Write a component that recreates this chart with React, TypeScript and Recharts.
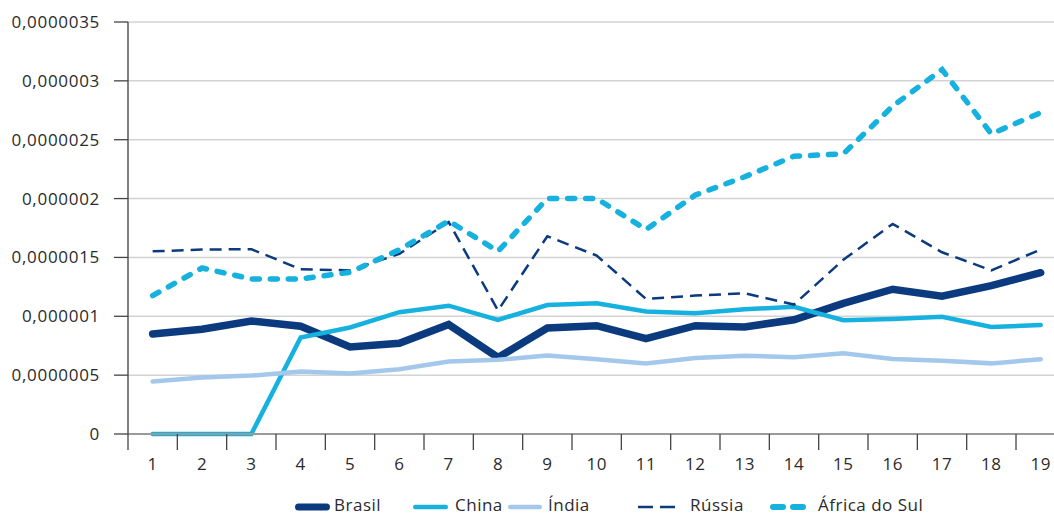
import React from 'react';
import { LineChart, Line, XAxis, YAxis, CartesianGrid, Legend } from 'recharts';

// x categories
const categories = ['1', '2', '3', '4', '5', '6', '7', '8', '9', '10', '11', '12', '13', '14', '15', '16', '17', '18', '19'];

// values in millionths (×0,000001)
const brasil = [0.85, 0.89, 0.96, 0.915, 0.74, 0.77, 0.93, 0.65, 0.9, 0.92, 0.81, 0.92, 0.91, 0.97, 1.11, 1.23, 1.17, 1.26, 1.37];
const china = [0, 0, 0, 0.82, 0.905, 1.035, 1.09, 0.97, 1.096, 1.11, 1.04, 1.025, 1.06, 1.08, 0.966, 0.977, 0.995, 0.91, 0.925];
const india = [0.445, 0.48, 0.496, 0.53, 0.515, 0.55, 0.615, 0.63, 0.666, 0.635, 0.6, 0.646, 0.665, 0.652, 0.685, 0.637, 0.622, 0.6, 0.635];
const russia = [1.552, 1.567, 1.57, 1.4, 1.39, 1.53, 1.8, 1.05, 1.68, 1.516, 1.147, 1.176, 1.195, 1.1, 1.48, 1.785, 1.544, 1.39, 1.567];
const africa = [1.176, 1.41, 1.317, 1.317, 1.374, 1.565, 1.81, 1.552, 2.0, 2.0, 1.737, 2.03, 2.185, 2.36, 2.38, 2.785, 3.096, 2.55, 2.73];

const seriesNames = ['Brasil', 'China', 'Índia', 'Rússia', 'África do Sul'];

const yTickValues = [0, 0.5, 1, 1.5, 2, 2.5, 3, 3.5];
const yTickLabels = ['0', '0,0000005', '0,000001', '0,0000015', '0,000002', '0,0000025', '0,000003', '0,0000035'];

const data = categories.map((c, i) => ({
  x: i + 1,
  label: c,
  brasil: brasil[i],
  china: china[i],
  india: india[i],
  russia: russia[i],
  africa: africa[i],
}));

// the plot runs past the right edge of the picture (last category band is cut)
const X_MAX = 19.27;
const xTicks: number[] = [];
for (let i = 0; i < categories.length; i++) {
  xTicks.push(i + 0.5);
  xTicks.push(i + 1);
}

const FONT = '"Open Sans", "Noto Sans", sans-serif';
const NAVY = '#0b3a7e';
const CYAN = '#16b1de';
const LIGHT = '#a3c8ec';
const TEXT = '#2b2b2b';

const XTick = (props: any) => {
  const { x, y, payload } = props;
  const v = payload.value;
  if (Number.isInteger(v)) {
    return (
      <text x={x} y={y + 36} textAnchor="middle" fill={TEXT} fontSize={17} fontFamily={FONT} letterSpacing={0.5}>
        {categories[v - 1]}
      </text>
    );
  }
  return <line x1={x} x2={x} y1={y} y2={y + 16} stroke="#444" strokeWidth={1.3} />;
};

const legendStyle = [
  { icon: 295, text: 334, color: NAVY, w: 7, dash: null, cap: 'round', len: 35 },
  { icon: 413, text: 455, color: CYAN, w: 4.5, dash: null, cap: 'round', len: 35 },
  { icon: 508, text: 548, color: LIGHT, w: 4.5, dash: null, cap: 'round', len: 34 },
  { icon: 638, text: 690, color: NAVY, w: 2.5, dash: '15 7', cap: 'butt', len: 41 },
  { icon: 770, text: 818, color: CYAN, w: 6, dash: '10 10', cap: 'round', len: 37 },
];

const LegendContent = () => (
  <div style={{ position: 'relative', height: 30, width: '100%' }}>
    {seriesNames.map((name, i) => {
      const s = legendStyle[i];
      const inset = s.cap === 'round' ? s.w / 2 : 0;
      return (
        <React.Fragment key={name}>
          <svg style={{ position: 'absolute', left: s.icon - 4, top: 14 }} width={s.len + 8} height={16}>
            <line
              x1={4 + inset}
              x2={4 + s.len - inset}
              y1={8}
              y2={8}
              stroke={s.color}
              strokeWidth={s.w}
              strokeLinecap={s.cap as any}
              strokeDasharray={s.dash || undefined}
            />
          </svg>
          <span
            style={{
              position: 'absolute',
              left: s.text,
              top: 11,
              lineHeight: '18px',
              fontSize: 17,
              fontFamily: FONT,
              color: TEXT,
              letterSpacing: 0.5,
              whiteSpace: 'nowrap',
            }}
          >
            {name}
          </span>
        </React.Fragment>
      );
    })}
  </div>
);

export default function App() {
  return (
    <div style={{ width: 1054, height: 515, background: '#fff', overflow: 'hidden' }}>
      <style>{'html, body { margin: 0; padding: 0; overflow: hidden; background: #fff; }'}</style>
      <LineChart width={1054} height={515} data={data} margin={{ top: 22, right: 0, left: 0, bottom: 0 }}>
        <CartesianGrid vertical={false} stroke="#d3d3d3" strokeWidth={1.5} />
        <XAxis
          dataKey="x"
          type="number"
          domain={[0.5, X_MAX]}
          ticks={xTicks}
          interval={0}
          tickLine={false}
          tickSize={0}
          tickMargin={0}
          height={51}
          axisLine={{ stroke: '#9a9a9a', strokeWidth: 2 }}
          tick={<XTick />}
        />
        <YAxis
          type="number"
          domain={[0, 3.5]}
          ticks={yTickValues}
          interval={0}
          width={128}
          tickSize={14}
          tickMargin={14}
          tickLine={{ stroke: '#444', strokeWidth: 1.3 }}
          axisLine={{ stroke: '#555', strokeWidth: 1.5 }}
          tick={{ fill: TEXT, fontSize: 17, fontFamily: FONT, letterSpacing: 0.7 }}
          tickFormatter={(v: number) => yTickLabels[yTickValues.indexOf(v)] ?? ''}
        />
        <Legend verticalAlign="bottom" height={30} content={<LegendContent />} />
        <Line dataKey="brasil" name={seriesNames[0]} stroke={NAVY} strokeWidth={7.5} strokeLinecap="round" dot={false} isAnimationActive={false} />
        <Line dataKey="china" name={seriesNames[1]} stroke={CYAN} strokeWidth={4.5} strokeLinecap="round" dot={false} isAnimationActive={false} />
        <Line dataKey="india" name={seriesNames[2]} stroke={LIGHT} strokeWidth={4.5} strokeLinecap="round" dot={false} isAnimationActive={false} />
        <Line dataKey="russia" name={seriesNames[3]} stroke={NAVY} strokeWidth={2.5} strokeDasharray="12 7" dot={false} isAnimationActive={false} />
        <Line dataKey="africa" name={seriesNames[4]} stroke={CYAN} strokeWidth={5.5} strokeDasharray="7 11" strokeLinecap="round" dot={false} isAnimationActive={false} />
      </LineChart>
    </div>
  );
}
